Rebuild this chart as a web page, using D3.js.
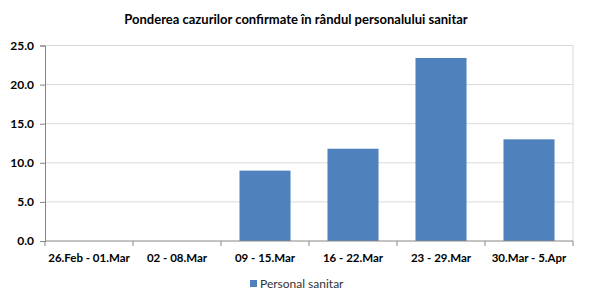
<!DOCTYPE html>
<html><head><meta charset="utf-8">
<script src="https://cdn.jsdelivr.net/npm/d3@7"></script>
<style>body{margin:0;background:#fff;}svg{display:block;font-family:Lato,"Open Sans",sans-serif;}</style>
</head><body>
<script>
const categories = ["26.Feb - 01.Mar","02 - 08.Mar","09 - 15.Mar","16 - 22.Mar","23 - 29.Mar","30.Mar - 5.Apr"];
const values = [0, 0, 9.0, 11.8, 23.4, 13.0];
const yTicks = [0, 5, 10, 15, 20, 25];
const seriesName = "Personal sanitar";
const title = "Ponderea cazurilor confirmate în rândul personalului sanitar";

const W = 610, H = 296;
const m = {left: 45, right: 37, top: 45.5, bottom: 55};
const svg = d3.select("body").append("svg").attr("width", W).attr("height", H);

const x = d3.scaleBand().domain(categories).range([m.left, W - m.right]).paddingInner(0.42).paddingOuter(0.21);
const y = d3.scaleLinear().domain([0, 25]).range([H - m.bottom, m.top]);

// gridlines
svg.append("g").selectAll("line").data(yTicks.filter(d => d > 0)).join("line")
  .attr("x1", m.left).attr("x2", W - m.right)
  .attr("y1", d => y(d)).attr("y2", d => y(d))
  .attr("stroke", "#d9d9d9").attr("stroke-width", 1);
// right border
svg.append("line").attr("x1", W - m.right).attr("x2", W - m.right)
  .attr("y1", y(25)).attr("y2", y(0)).attr("stroke", "#d9d9d9");

// bars
svg.append("g").selectAll("rect").data(values).join("rect")
  .attr("x", (d, i) => x(categories[i]))
  .attr("width", x.bandwidth())
  .attr("y", d => y(d))
  .attr("height", d => y(0) - y(d))
  .attr("fill", "#4f81bd");

// y axis
const yAxis = svg.append("g").attr("transform", `translate(${m.left},0)`)
  .call(d3.axisLeft(y).tickValues(yTicks).tickFormat(d3.format(".1f")).tickSize(5).tickPadding(6));
yAxis.select(".domain").attr("stroke", "#868686");
yAxis.selectAll(".tick line").attr("stroke", "#868686");
yAxis.selectAll("text").attr("font-size", 12).attr("font-weight", "bold").attr("fill", "#000")
  .attr("font-family", "Lato, sans-serif");

// x axis with boundary ticks
const bx = d3.scaleLinear().domain([0, categories.length]).range([m.left, W - m.right]);
const xg = svg.append("g").attr("transform", `translate(0,${y(0)})`);
xg.append("line").attr("x1", m.left).attr("x2", W - m.right).attr("stroke", "#868686");
xg.selectAll("line.t").data(d3.range(categories.length + 1)).join("line").attr("class", "t")
  .attr("x1", d => bx(d)).attr("x2", d => bx(d)).attr("y1", 0).attr("y2", 5).attr("stroke", "#868686");
xg.selectAll("text").data(categories).join("text")
  .attr("x", d => x(d) + x.bandwidth() / 2).attr("y", 21)
  .attr("text-anchor", "middle").attr("font-size", 11.5).attr("font-weight", "bold").attr("fill", "#000")
  .text(d => d);

// title
svg.append("text").attr("x", 296).attr("y", 24).attr("text-anchor", "middle")
  .attr("font-size", 13).attr("font-weight", "bold").attr("fill", "#000").text(title);

// legend
const lg = svg.append("g").attr("transform", "translate(250,284)");
lg.append("rect").attr("x", 0).attr("y", -4).attr("width", 7).attr("height", 7).attr("fill", "#4f81bd");
lg.append("text").attr("x", 10).attr("y", 4).attr("font-size", 12).attr("fill", "#333").text(seriesName);
</script>
</body></html>
